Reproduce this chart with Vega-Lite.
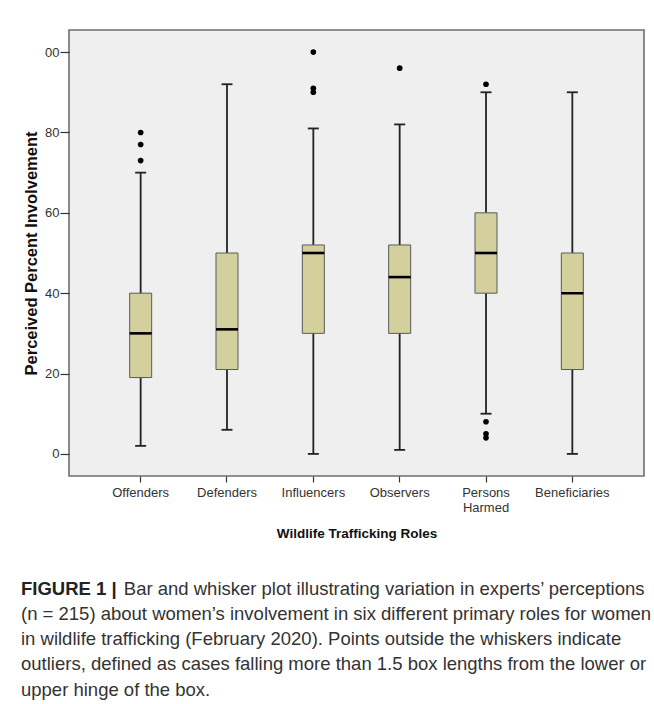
{
  "$schema": "https://vega.github.io/schema/vega-lite/v6.json",
  "autosize": {"type": "none"},
  "padding": {"left": 69, "top": 30, "right": 10, "bottom": 228},
  "width": 575,
  "height": 446,
  "background": "#ffffff",
  "datasets": {
    "boxes": [
      {"role": "Offenders", "lower": 2, "q1": 19, "median": 30, "q3": 40, "upper": 70},
      {"role": "Defenders", "lower": 6, "q1": 21, "median": 31, "q3": 50, "upper": 92},
      {"role": "Influencers", "lower": 0, "q1": 30, "median": 50, "q3": 52, "upper": 81},
      {"role": "Observers", "lower": 1, "q1": 30, "median": 44, "q3": 52, "upper": 82},
      {"role": "Persons Harmed", "lower": 10, "q1": 40, "median": 50, "q3": 60, "upper": 90},
      {"role": "Beneficiaries", "lower": 0, "q1": 21, "median": 40, "q3": 50, "upper": 90}
    ],
    "outliers": [
      {"role": "Offenders", "value": 73},
      {"role": "Offenders", "value": 77},
      {"role": "Offenders", "value": 80},
      {"role": "Influencers", "value": 90},
      {"role": "Influencers", "value": 91},
      {"role": "Influencers", "value": 100},
      {"role": "Observers", "value": 96},
      {"role": "Persons Harmed", "value": 92},
      {"role": "Persons Harmed", "value": 8},
      {"role": "Persons Harmed", "value": 5},
      {"role": "Persons Harmed", "value": 4}
    ]
  },
  "title": {
    "text": "FIGURE 1 |",
    "subtitle": [
      "\u200b\u00a0\u00a0\u00a0\u00a0\u00a0\u00a0\u00a0\u00a0\u00a0\u00a0\u00a0\u00a0\u00a0\u00a0\u00a0\u00a0\u00a0\u00a0\u00a0\u00a0Bar and whisker plot illustrating variation in experts’ perceptions",
      "(n = 215) about women’s involvement in six different primary roles for women",
      "in wildlife trafficking (February 2020). Points outside the whiskers indicate",
      "outliers, defined as cases falling more than 1.5 box lengths from the lower or",
      "upper hinge of the box."
    ],
    "orient": "bottom",
    "anchor": "start",
    "frame": "group",
    "dx": -48,
    "offset": 40,
    "font": "Liberation Sans",
    "fontSize": 18.5,
    "fontWeight": "bold",
    "color": "#222222",
    "subtitleFont": "Liberation Sans",
    "subtitleFontSize": 18.5,
    "subtitleFontWeight": "normal",
    "subtitleLineHeight": 25.3,
    "subtitlePadding": -18.5,
    "subtitleColor": "#333333"
  },
  "encoding": {
    "x": {
      "field": "role",
      "type": "nominal",
      "sort": ["Offenders", "Defenders", "Influencers", "Observers", "Persons Harmed", "Beneficiaries"],
      "scale": {"paddingInner": 0, "paddingOuter": 0.33},
      "axis": {
        "title": "Wildlife Trafficking Roles",
        "labelAngle": 0,
        "domain": false,
        "ticks": true,
        "tickSize": 6,
        "tickColor": "#333333",
        "tickWidth": 1.2,
        "labelFont": "Liberation Sans",
        "labelFontSize": 13,
        "labelColor": "#333333",
        "labelPadding": 4,
        "labelLineHeight": 15,
        "labelExpr": "datum.value == 'Persons Harmed' ? ['Persons', 'Harmed'] : datum.label",
        "titleFont": "Liberation Sans",
        "titleFontSize": 13.5,
        "titleFontWeight": "bold",
        "titleColor": "#111111",
        "titlePadding": 12
      }
    }
  },
  "layer": [
    {
      "data": {"name": "boxes"},
      "mark": {"type": "rule", "color": "#222222", "strokeWidth": 1.8},
      "encoding": {
        "y": {
          "field": "lower",
          "type": "quantitative",
          "scale": {"domain": [-5.5, 105.5], "nice": false, "zero": false},
          "axis": {
            "title": "Perceived Percent Involvement",
            "values": [0, 20, 40, 60, 80, 100],
            "labelExpr": "datum.value == 100 ? '00' : datum.label",
            "grid": false,
            "domain": false,
            "tickSize": 9,
            "tickColor": "#333333",
            "tickWidth": 1.2,
            "labelFont": "Liberation Sans",
            "labelFontSize": 13,
            "labelColor": "#333333",
            "labelPadding": 1,
            "titleFont": "Liberation Sans",
            "titleFontSize": 16.5,
            "titleFontWeight": "bold",
            "titleColor": "#111111",
            "titlePadding": 5
          }
        },
        "y2": {"field": "upper"}
      }
    },
    {
      "data": {"name": "boxes"},
      "mark": {"type": "bar", "width": 22, "fill": "#d4d09e", "stroke": "#5a5a5a", "strokeWidth": 1},
      "encoding": {
        "y": {"field": "q1", "type": "quantitative"},
        "y2": {"field": "q3"}
      }
    },
    {
      "data": {"name": "boxes"},
      "mark": {"type": "tick", "size": 22, "thickness": 2.6, "color": "#000000", "opacity": 1},
      "encoding": {
        "y": {"field": "median", "type": "quantitative"}
      }
    },
    {
      "data": {"name": "boxes"},
      "mark": {"type": "tick", "size": 11, "thickness": 1.8, "color": "#222222", "opacity": 1},
      "encoding": {
        "y": {"field": "lower", "type": "quantitative"}
      }
    },
    {
      "data": {"name": "boxes"},
      "mark": {"type": "tick", "size": 11, "thickness": 1.8, "color": "#222222", "opacity": 1},
      "encoding": {
        "y": {"field": "upper", "type": "quantitative"}
      }
    },
    {
      "data": {"name": "outliers"},
      "mark": {"type": "point", "filled": true, "size": 32, "color": "#000000", "opacity": 1},
      "encoding": {
        "y": {"field": "value", "type": "quantitative"}
      }
    }
  ],
  "config": {
    "view": {"stroke": "#6f6f6f", "strokeWidth": 1.6, "fill": "#efefef"}
  }
}
